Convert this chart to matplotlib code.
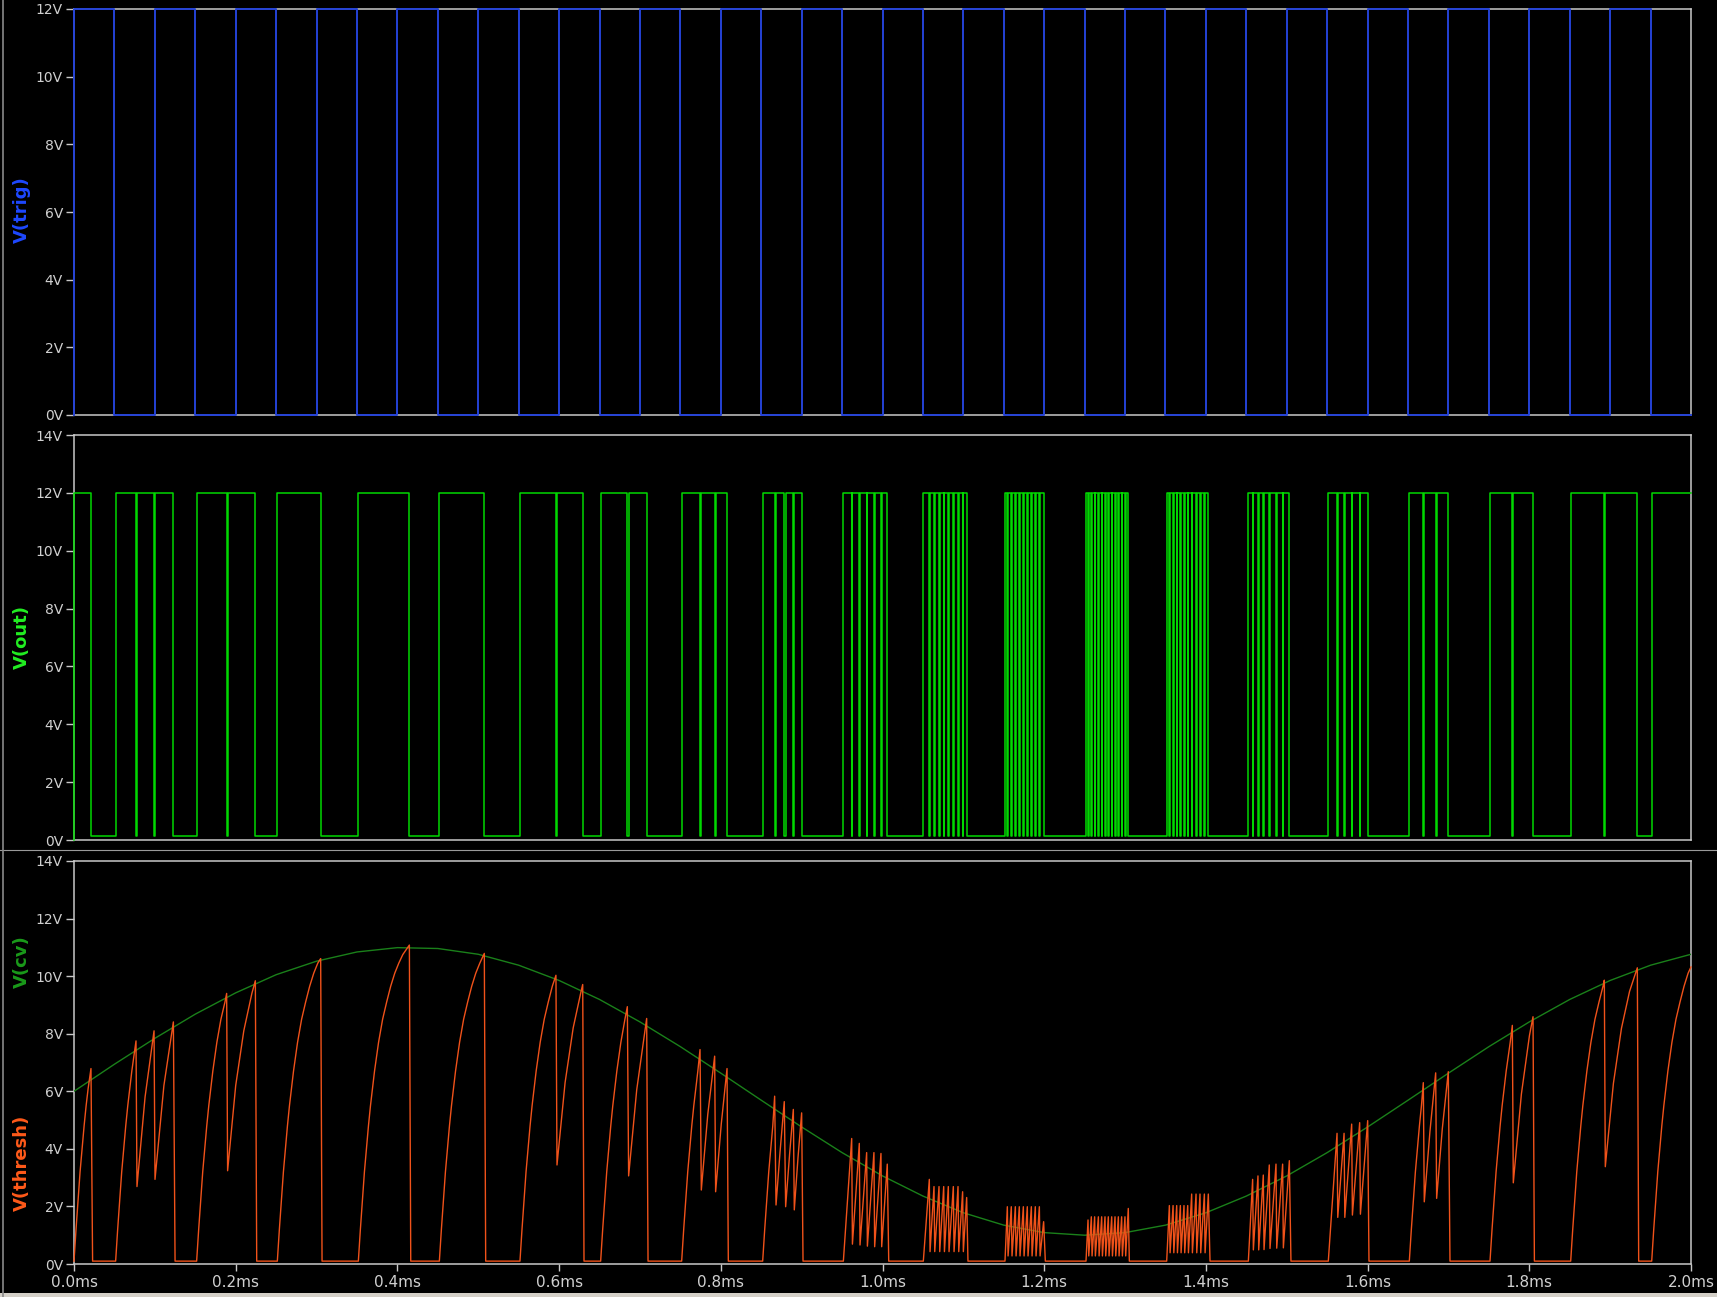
import numpy as np
import matplotlib.pyplot as plt
from matplotlib.lines import Line2D
from matplotlib.patches import Rectangle

plt.rcParams['font.family'] = ['DejaVu Sans']

# ! data (time in ms, volts)

# trigger edges, level after each edge
trig_t = [0.00, 0.05, 0.10, 0.15, 0.20, 0.25, 0.30, 0.35, 0.40, 0.45,
          0.50, 0.55, 0.60, 0.65, 0.70, 0.75, 0.80, 0.85, 0.90, 0.95,
          1.00, 1.05, 1.10, 1.15, 1.20, 1.25, 1.30, 1.35, 1.40, 1.45,
          1.50, 1.55, 1.60, 1.65, 1.70, 1.75, 1.80, 1.85, 1.90, 1.95, 2.00]
trig_v = [12, 0, 12, 0, 12, 0, 12, 0, 12, 0,
          12, 0, 12, 0, 12, 0, 12, 0, 12, 0,
          12, 0, 12, 0, 12, 0, 12, 0, 12, 0,
          12, 0, 12, 0, 12, 0, 12, 0, 12, 0, 0]

# control voltage, read every 0.05 ms
cv_t = [0.00, 0.05, 0.10, 0.15, 0.20, 0.25, 0.30, 0.35, 0.40, 0.45,
        0.50, 0.55, 0.60, 0.65, 0.70, 0.75, 0.80, 0.85, 0.90, 0.95,
        1.00, 1.05, 1.10, 1.15, 1.20, 1.25, 1.30, 1.35, 1.40, 1.45,
        1.50, 1.55, 1.60, 1.65, 1.70, 1.75, 1.80, 1.85, 1.90, 1.95, 2.00]
cv_v = [6.00, 6.94, 7.84, 8.68, 9.42, 10.05, 10.52, 10.84, 10.99, 10.96,
        10.76, 10.38, 9.85, 9.19, 8.41, 7.55, 6.63, 5.69, 4.76, 3.87,
        3.06, 2.36, 1.78, 1.35, 1.09, 1.00, 1.09, 1.35, 1.78, 2.36,
        3.06, 3.87, 4.76, 5.69, 6.63, 7.55, 8.41, 9.19, 9.85, 10.38, 10.76]

BASE = 0.1      # thresh resting level
DROP = 0.0009   # discharge time of one tooth
OUT_HI = 12.0
OUT_LO = 0.15

# shape of a charge ramp starting from the resting level (time after start, volts)
rise_dt = [0.0025, 0.005, 0.0075, 0.01, 0.0125, 0.015, 0.0175, 0.02,
           0.025, 0.03, 0.035, 0.04, 0.045, 0.05, 0.055, 0.06]
rise_v = [1.2, 2.2, 3.2, 4.0, 4.8, 5.5, 6.1, 6.7,
          7.7, 8.5, 9.1, 9.65, 10.1, 10.45, 10.75, 10.95]

# slow cycles: ramp start, first peak (t, v), then the rest as (t, v) vertices
cycles = [
    (0.0000, (0.0210, 6.79), [(0.0230, 0.1)]),
    (0.0515, (0.0767, 7.75), [(0.0779, 2.69), (0.0879, 5.8), (0.0990, 8.10), (0.1002, 2.94),
                              (0.1112, 6.2), (0.1229, 8.41), (0.1250, 0.1)]),
    (0.1517, (0.1888, 9.40), [(0.1900, 3.24), (0.2000, 6.2), (0.2100, 8.1), (0.2200, 9.4),
                              (0.2243, 9.84), (0.2260, 0.1)]),
    (0.2515, (0.3051, 10.61), [(0.3068, 0.1)]),
    (0.3517, (0.4148, 11.08), [(0.4165, 0.1)]),
    (0.4519, (0.5075, 10.79), [(0.5092, 0.1)]),
    (0.5516, (0.5961, 10.03), [(0.5974, 3.44), (0.6074, 6.3), (0.6174, 8.2), (0.6274, 9.5),
                               (0.6292, 9.71), (0.6308, 0.1)]),
    (0.6514, (0.6844, 8.94), [(0.6860, 3.06), (0.6960, 6.05), (0.7060, 8.05), (0.7083, 8.53),
                              (0.7100, 0.1)]),
    (0.7516, (0.7743, 7.45), [(0.7759, 2.57), (0.7839, 5.2), (0.7924, 7.22), (0.7936, 2.51),
                              (0.8006, 4.87), (0.8077, 6.79), (0.8093, 0.1)]),
    (0.8518, (0.8666, 5.83), [(0.8683, 2.05), (0.8733, 3.9), (0.8785, 5.64), (0.8802, 1.99),
                              (0.8852, 3.85), (0.8897, 5.37), (0.8909, 1.88), (0.8955, 3.7),
                              (0.9000, 5.25), (0.9017, 0.1)]),
]

# fast bursts: peak times, peak volts, trough volts
b10_t = [0.9619, 0.9713, 0.9804, 0.9894, 0.9981, 1.0059]
b10_v = [4.36, 4.19, 3.87, 3.87, 3.84, 3.47]
b10_lo = [0.69, 0.66, 0.62, 0.60, 0.60]

b11_t = [1.0579, 1.0637, 1.0699, 1.0757, 1.0814, 1.0876, 1.0934, 1.0991, 1.1041]
b11_v = [2.94, 2.69, 2.69, 2.69, 2.69, 2.69, 2.69, 2.51, 2.31]
b11_lo = [0.43, 0.43, 0.43, 0.43, 0.43, 0.43, 0.43, 0.43]

b12_t = [1.1544, 1.1593, 1.1643, 1.1692, 1.1742, 1.1791, 1.1841, 1.1890, 1.1940, 1.1993]
b12_v = [1.99, 1.99, 1.99, 1.99, 1.99, 1.99, 1.99, 1.99, 1.99, 1.47]
b12_lo = [0.28, 0.28, 0.28, 0.28, 0.28, 0.28, 0.28, 0.28, 0.28]

b13_t = [1.2542, 1.2583, 1.2624, 1.2670, 1.2711, 1.2752, 1.2793, 1.2835, 1.2876,
         1.2917, 1.2958, 1.2999, 1.3040]
b13_v = [1.53, 1.64, 1.64, 1.64, 1.64, 1.64, 1.64, 1.64, 1.64, 1.64, 1.64, 1.64, 1.93]
b13_lo = [0.28, 0.28, 0.28, 0.28, 0.28, 0.28, 0.28, 0.28, 0.28, 0.28, 0.28, 0.28]

b14_t = [1.3548, 1.3594, 1.3639, 1.3684, 1.3729, 1.3775, 1.3824, 1.3878, 1.3927,
         1.3981, 1.4030]
b14_v = [2.03, 2.03, 2.03, 2.03, 2.03, 2.03, 2.43, 2.43, 2.43, 2.43, 2.43]
b14_lo = [0.39, 0.39, 0.39, 0.39, 0.39, 0.39, 0.39, 0.39, 0.39, 0.39]

b15_t = [1.4578, 1.4644, 1.4710, 1.4784, 1.4867, 1.4949, 1.5032]
b15_v = [2.94, 3.06, 3.09, 3.44, 3.47, 3.47, 3.59]
b15_lo = [0.49, 0.49, 0.50, 0.54, 0.55, 0.56]

b16_t = [1.5622, 1.5709, 1.5803, 1.5902, 1.6001]
b16_v = [4.54, 4.54, 4.86, 4.91, 4.98]
b16_lo = [1.62, 1.62, 1.70, 1.73]

# rise start, peaks, troughs, back at rest
bursts = [
    (0.9516, b10_t, b10_v, b10_lo, 1.0077),
    (1.0505, b11_t, b11_v, b11_lo, 1.1057),
    (1.1515, b12_t, b12_v, b12_lo, 1.2014),
    (1.2517, b13_t, b13_v, b13_lo, 1.3053),
    (1.3515, b14_t, b14_v, b14_lo, 1.4051),
    (1.4525, b15_t, b15_v, b15_lo, 1.5052),
    (1.5514, b16_t, b16_v, b16_lo, 1.6017),
]

cycles_end = [
    (1.6516, (1.6689, 6.30), [(1.6701, 2.16), (1.6771, 4.6), (1.6842, 6.64), (1.6854, 2.28),
                              (1.6924, 4.7), (1.6998, 6.68), (1.7019, 0.1)]),
    (1.7514, (1.7790, 8.29), [(1.7802, 2.82), (1.7902, 5.9), (1.8002, 7.94), (1.8046, 8.59),
                              (1.8063, 0.1)]),
    (1.8512, (1.8928, 9.86), [(1.8940, 3.38), (1.9040, 6.27), (1.9140, 8.19), (1.9240, 9.47),
                              (1.9336, 10.29), (1.9353, 0.1)]),
    (1.9514, (2.0000, 10.32), []),
]


def slow(start, peak, rest):
    pts = [(start, BASE)]
    for dt, v in zip(rise_dt, rise_v):
        if start + dt < peak[0] - 0.0015:
            pts.append((start + dt, v))
    return pts + [peak] + rest


def burst(start, peak_t, peak_v, low_v, end):
    pts = [(start, BASE)]
    for i in range(len(peak_t)):
        pts.append((peak_t[i], peak_v[i]))
        if i < len(low_v):
            pts.append((peak_t[i] + DROP, low_v[i]))
    pts.append((end, BASE))
    return pts


thresh = []
for c in cycles:
    thresh += slow(*c)
for b in bursts:
    thresh += burst(*b)
for c in cycles_end:
    thresh += slow(*c)
th_t = np.array([p[0] for p in thresh])
th_v = np.array([p[1] for p in thresh])

# output is high while the cap charges, low otherwise
out_lvl = np.where(np.diff(th_v) > 0, OUT_HI, OUT_LO)
out_t = np.concatenate([[0.0], th_t])
out_v = np.concatenate([[0.0], out_lvl, [out_lvl[-1]]])

# ! figure
W, H = 1717, 1297
fig = plt.figure(figsize=(W / 100, H / 100), dpi=100, facecolor='black')

GRID = '#c8c8c8'


def px_axes(x0, y0, x1, y1):
    return fig.add_axes([x0 / W, 1 - y1 / H, (x1 - x0) / W, (y1 - y0) / H])


def style(ax, ymax, xlabels):
    ax.set_facecolor('black')
    ax.set_xlim(0, 2.0)
    ax.set_ylim(0, ymax)
    for s in ax.spines.values():
        s.set_color(GRID)
        s.set_linewidth(1.1)
    yt = list(range(0, ymax + 1, 2))
    ax.set_yticks(yt)
    ax.set_yticklabels([f"{v}V" for v in yt])
    ax.tick_params(axis='y', colors=GRID, labelcolor='#d0d0d0', length=6, width=1.0,
                   pad=2, labelsize=10)
    xt = [0.0, 0.2, 0.4, 0.6, 0.8, 1.0, 1.2, 1.4, 1.6, 1.8, 2.0]
    ax.set_xticks(xt)
    if xlabels:
        ax.set_xticklabels([f"{v:.1f}ms" for v in xt])
        ax.tick_params(axis='x', colors=GRID, labelcolor='#d0d0d0', length=5, width=1.0,
                       pad=3, labelsize=11)
    else:
        ax.tick_params(axis='x', length=0, labelbottom=False)


ax1 = px_axes(74, 9, 1691, 415)
ax2 = px_axes(74, 435, 1691, 840)
ax3 = px_axes(74, 861, 1691, 1264)
style(ax1, 12, False)
style(ax2, 14, False)
style(ax3, 14, True)

ax1.plot([0.0] + trig_t, [0] + trig_v, drawstyle='steps-post', color='#2442d6',
         lw=1.4, zorder=3, clip_on=False)
ax2.plot(out_t, out_v, drawstyle='steps-post', color='#00d800', lw=1.1, zorder=3,
         clip_on=False)
ax3.plot(cv_t, cv_v, color='#1a801a', lw=1.0, zorder=3)
ax3.plot(th_t, th_v, color='#f0521a', lw=1.0, zorder=4, clip_on=False)

# trace names on the left
fig.text(22 / W, 1 - 210 / H, "V(trig)", rotation=90, ha='center', va='center',
         fontsize=13, fontweight='bold', color='#1e48ff')
fig.text(22 / W, 1 - 637 / H, "V(out)", rotation=90, ha='center', va='center',
         fontsize=13, fontweight='bold', color='#22ee22')
fig.text(22 / W, 1 - 962 / H, "V(cv)", rotation=90, ha='center', va='center',
         fontsize=13, fontweight='bold', color='#1a9a1a')
fig.text(22 / W, 1 - 1163 / H, "V(thresh)", rotation=90, ha='center', va='center',
         fontsize=13, fontweight='bold', color='#ff5a1a')

# window frame bits
fig.add_artist(Line2D([0, 1], [1 - 850 / H, 1 - 850 / H], transform=fig.transFigure,
                      color='#9a9a9a', lw=0.8))
fig.add_artist(Line2D([2.5 / W, 2.5 / W], [0, 1], transform=fig.transFigure,
                      color='#8a8a8a', lw=1.2))
fig.add_artist(Rectangle((0, 0), 1, 4 / H, transform=fig.transFigure,
                         facecolor='#d4d0c8', edgecolor='none'))

fig.savefig("out.png", dpi=100, facecolor='black')
